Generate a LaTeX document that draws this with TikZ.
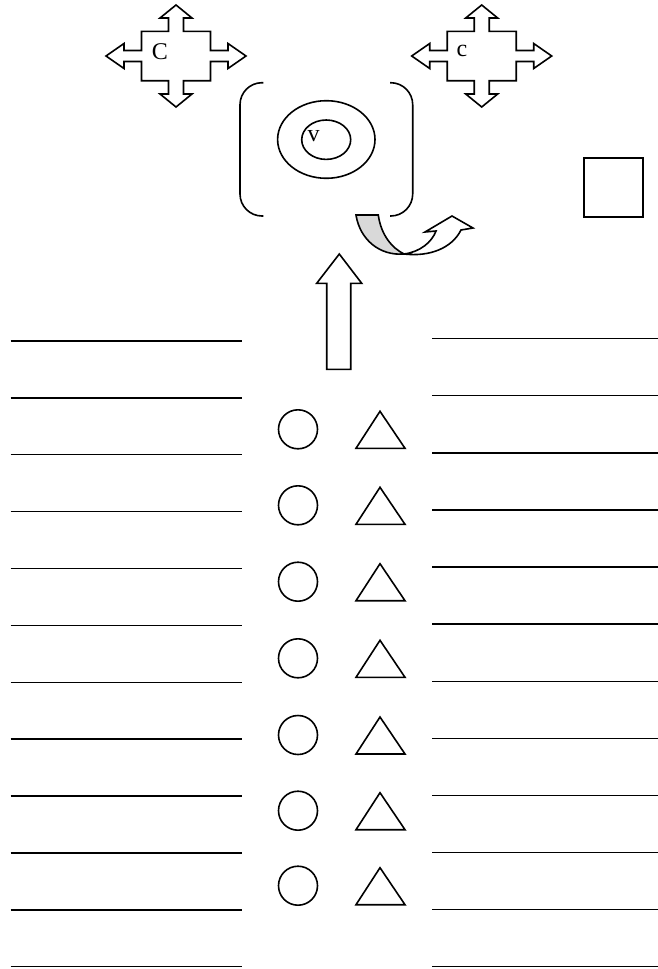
\documentclass[tikz,border=0pt]{standalone}
\usepackage{fontspec}
\setmainfont{Liberation Serif}
\begin{document}
\begin{tikzpicture}[x=1pt,y=-1pt,line join=miter,
  shape line/.style={line width=1.6pt},
  rule line/.style={line width=1.4pt},
  lbl/.style={inner sep=0pt,font=\fontsize{24}{24}\selectfont},
  crossarrow/.pic={
    \draw[shape line] (0,-51) -- (16,-38) -- (7.5,-38) -- (7.5,-24.7) -- (34.5,-24.7) -- (34.5,-5.5) -- (52,-5.5) -- (52,-12.5) -- (70,0) -- (52,12.5) -- (52,5.5) -- (34.5,5.5) -- (34.5,24.7) -- (7.5,24.7) -- (7.5,38) -- (16,38) -- (0,51) -- (-16,38) -- (-7.5,38) -- (-7.5,24.7) -- (-34.5,24.7) -- (-34.5,5.5) -- (-52,5.5) -- (-52,12.5) -- (-70,0) -- (-52,-12.5) -- (-52,-5.5) -- (-34.5,-5.5) -- (-34.5,-24.7) -- (-7.5,-24.7) -- (-7.5,-38) -- (-16,-38) -- cycle;
  }]
\useasboundingbox (0,0) rectangle (658,969);
\fill[white] (0,0) rectangle (658,969);

% cross arrows
\pic at (176,56) {crossarrow};
\pic at (481.7,56) {crossarrow};
\node[lbl] (bigC) at (160,52) {C};
\node[lbl] (smallc) at (462,51) {c};

% brackets
\draw[shape line,rounded corners=22pt] (263.3,82.7) -- (240,82.7) -- (240,216) -- (263.3,216);
\draw[shape line,rounded corners=22pt] (390,82.7) -- (412.7,82.7) -- (412.7,216) -- (390,216);

% ellipses
\draw[shape line] (326.3,139.5) ellipse [x radius=48.7pt, y radius=38.8pt];
\draw[shape line] (326.2,139.7) ellipse [x radius=24.5pt, y radius=19.7pt];
\node[lbl] (vlab) at (313.5,136) {v};

% square
\draw[line width=2.2pt] (584.3,158.3) rectangle (643.3,216.7);

% curved arrow
\draw[shape line,fill=gray!30] (356,215) -- (378.3,215) .. controls (381,235) and (392,248) .. (404,254) .. controls (380,256) and (360,240) .. (356,215) -- cycle;
\draw[shape line,fill=white] (404,254) .. controls (420,252) and (432,242) .. (436,231) -- (425,232) -- (452,216) -- (473,228) -- (461,230) .. controls (452,248) and (430,257) .. (404,254) -- cycle;

% up block arrow
\draw[shape line] (339.3,254) -- (361.7,283.3) -- (350.7,283.3) -- (350.7,369.3) -- (326.7,369.3) -- (326.7,283.3) -- (316.7,283.3) -- cycle;

% rules
\foreach \i in {0,...,11}{
  \draw[rule line] (10.7,{341+56.88*\i}) -- (241.7,{341+56.88*\i});
  \draw[rule line] (432.3,{338.7+57.09*\i}) -- (658,{338.7+57.09*\i});
}

% circles and triangles
\foreach \r [count=\k] in {429.3,505.3,581.7,658.3,735,810.7,885.7}{
  \node[draw,shape line,circle,minimum size=39pt,inner sep=0pt] (circ\k) at (298,\r) {};
  \draw[shape line] (356,\r+19) -- (380,\r-18) -- (405,\r+19) -- cycle;
}
\end{tikzpicture}
\end{document}
